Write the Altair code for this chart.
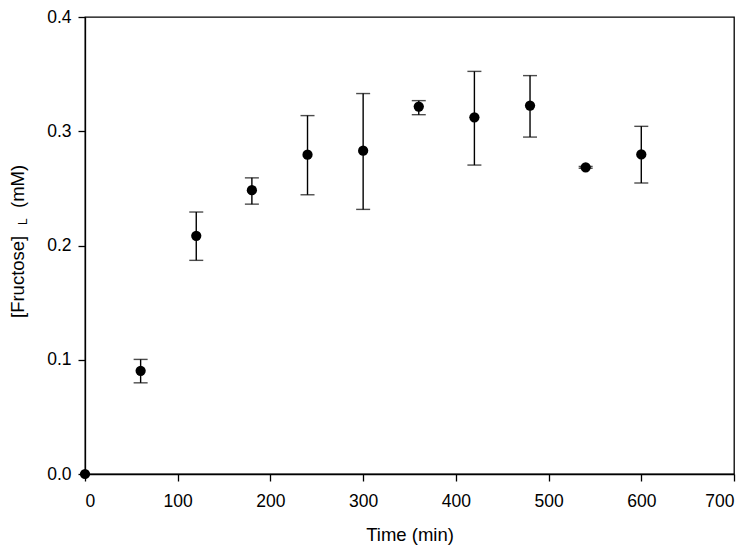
import altair as alt
import pandas as pd

# Data
time_min = [0, 60, 120, 180, 240, 300, 360, 420, 480, 540, 600]
fructose = [0.0, 0.0903, 0.2085, 0.2484, 0.2795, 0.2830, 0.3216, 0.3122, 0.3225, 0.2684, 0.2797]
err_low = [None, 0.0798, 0.1870, 0.2362, 0.2444, 0.2316, 0.3145, 0.2704, 0.2949, 0.2676, 0.2547]
err_high = [None, 0.1003, 0.2293, 0.2592, 0.3137, 0.3330, 0.3268, 0.3524, 0.3487, 0.2692, 0.3043]

x_ticks = [0, 100, 200, 300, 400, 500, 600, 700]
y_ticks = [0.0, 0.1, 0.2, 0.3, 0.4]

df = pd.DataFrame({"t": time_min, "f": fructose, "lo": err_low, "hi": err_high})
df_err = df.dropna()

FONT = "Liberation Sans"

x_scale = alt.Scale(domain=[0, 700], nice=False, zero=False)
y_scale = alt.Scale(domain=[0, 0.4], nice=False)

x_axis = alt.Axis(values=x_ticks, title="Time (min)", grid=False, tickSize=7,
                  labelPadding=11, labelFontSize=17.5, labelFont=FONT, labelColor="black",
                  titleFont=FONT, titleFontSize=18.5, titleFontWeight="normal",
                  titleColor="black", titleBaseline="alphabetic", titleY=66,
                  domainColor="black", tickColor="black", domainWidth=1.3, tickWidth=1.3)
y_axis = alt.Axis(values=y_ticks, format=".1f", title=None, grid=False, tickSize=7,
                  labelPadding=7, labelFontSize=17.5, labelFont=FONT, labelColor="black",
                  domainColor="black", tickColor="black", domainWidth=1.3, tickWidth=1.3)

base = alt.Chart(df)

bars = alt.Chart(df_err).mark_rule(color="black", strokeWidth=1.4).encode(
    x=alt.X("t:Q", scale=x_scale, axis=x_axis),
    y=alt.Y("lo:Q", scale=y_scale, axis=y_axis),
    y2="hi:Q",
)
cap_lo = alt.Chart(df_err).mark_tick(color="black", orient="horizontal", size=14, thickness=1.4).encode(
    x=alt.X("t:Q", scale=x_scale),
    y=alt.Y("lo:Q", scale=y_scale),
)
cap_hi = alt.Chart(df_err).mark_tick(color="black", orient="horizontal", size=14, thickness=1.4).encode(
    x=alt.X("t:Q", scale=x_scale),
    y=alt.Y("hi:Q", scale=y_scale),
)
points = base.mark_point(filled=True, color="black", size=105, opacity=1).encode(
    x=alt.X("t:Q", scale=x_scale),
    y=alt.Y("f:Q", scale=y_scale),
)

title_main = alt.Chart().mark_text(
    text="[Fructose]", angle=270, align="left", baseline="alphabetic",
    font=FONT, fontSize=18.5, color="black"
).encode(x=alt.value(-61), y=alt.value(301))
title_sub = alt.Chart().mark_text(
    text="L", angle=270, align="left", baseline="alphabetic",
    font=FONT, fontSize=12, color="black"
).encode(x=alt.value(-58), y=alt.value(208))
title_unit = alt.Chart().mark_text(
    text="(mM)", angle=270, align="left", baseline="alphabetic",
    font=FONT, fontSize=18.5, color="black"
).encode(x=alt.value(-61), y=alt.value(191))

chart = alt.layer(bars, cap_lo, cap_hi, points, title_main, title_sub, title_unit).properties(
    width=649, height=457,
    autosize=alt.AutoSizeParams(type="none"),
    padding={"left": 77, "top": 9, "right": 7, "bottom": 72},
    background="white",
).configure_view(stroke="black", strokeWidth=1.3)

chart.save("out.html", embed_options={"renderer": "svg", "actions": False})
